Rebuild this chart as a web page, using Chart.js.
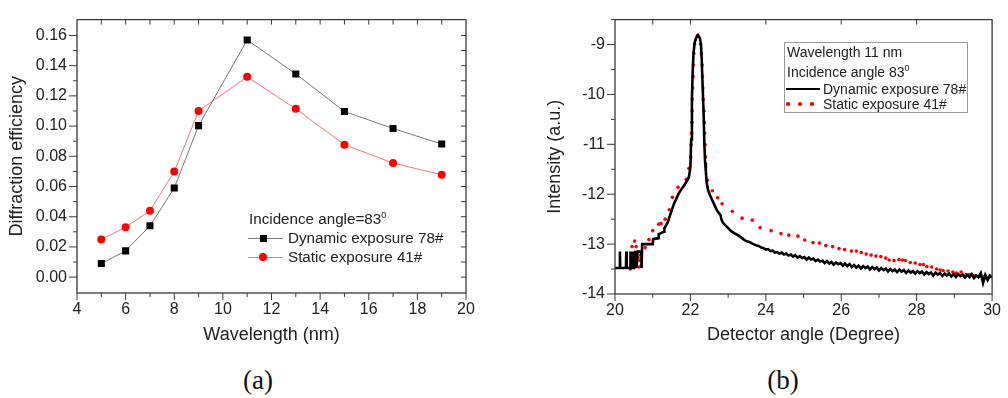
<!DOCTYPE html>
<html>
<head>
<meta charset="utf-8">
<script src="https://cdn.jsdelivr.net/npm/chart.js@4.4.0/dist/chart.umd.min.js"></script>
<style>
    body { margin: 0; background: #fff; width: 1008px; height: 398px; position: relative; overflow: hidden;
           font-family: "Liberation Sans", Arial, sans-serif; color: #222; }
    canvas { position: absolute; top: 0; }
    .t { position: absolute; white-space: nowrap; line-height: 1; transform: translateY(-50%); }
    .sup { font-size: 9px; position: relative; top: -6px; }
    .line { position: absolute; height: 0; }
    .mark { position: absolute; }
    .panel { position: absolute; width: 100px; text-align: center; font-family: "Liberation Serif", "Times New Roman", serif;
             font-size: 27px; line-height: 1; transform: translateY(-50%); color: #111; }
    #boxB { position: absolute; left: 784px; top: 42px; width: 182px; height: 69px; border: 1px solid #9a9a9a; }
</style>
</head>
<body>
<canvas id="chart-a" width="504" height="360" style="left:0"></canvas>
<canvas id="chart-b" width="478" height="360" style="left:530px"></canvas>

<!-- legend (a) -->
<div class="t" style="left:249px;top:219px;font-size:15.2px">Incidence angle=83<span class="sup">0</span></div>
<div class="line" style="left:248px;top:238px;width:35px;border-top:1px solid #777"></div>
<div class="mark" style="left:260px;top:235px;width:7px;height:7px;background:#000"></div>
<div class="t" style="left:288px;top:238px;font-size:15.2px">Dynamic exposure 78#</div>
<div class="line" style="left:248px;top:257px;width:35px;border-top:1px solid #ff7070"></div>
<div class="mark" style="left:259px;top:253px;width:8px;height:8px;border-radius:50%;background:#ff0000"></div>
<div class="t" style="left:288px;top:257px;font-size:15.2px">Static exposure 41#</div>

<!-- legend (b) -->
<div id="boxB"></div>
<div class="t" style="left:787px;top:52px;font-size:14px">Wavelength 11 nm</div>
<div class="t" style="left:787px;top:72px;font-size:14px">Incidence angle 83<span class="sup">0</span></div>
<div class="line" style="left:786px;top:88px;width:34px;border-top:2.5px solid #000"></div>
<div class="t" style="left:823px;top:89px;font-size:14px">Dynamic exposure 78#</div>
<div class="mark" style="left:786px;top:102px;width:3.5px;height:3.5px;border-radius:50%;background:#f00"></div>
<div class="mark" style="left:798px;top:102px;width:3.5px;height:3.5px;border-radius:50%;background:#f00"></div>
<div class="mark" style="left:810px;top:102px;width:3.5px;height:3.5px;border-radius:50%;background:#f00"></div>
<div class="t" style="left:823px;top:104px;font-size:14px">Static exposure 41#</div>

<div class="panel" style="left:208px;top:380px">(a)</div>
<div class="panel" style="left:733px;top:380px">(b)</div>

<script>
// (a) diffraction efficiency vs wavelength
const wavelengths = [5, 6, 7, 8, 9, 11, 13, 15, 17, 19];
const dynamicEff = [0.009, 0.0174, 0.034, 0.059, 0.1003, 0.157, 0.1345, 0.1097, 0.0984, 0.0881];
const staticEff = [0.025, 0.033, 0.044, 0.0699, 0.110, 0.1326, 0.1114, 0.0877, 0.0755, 0.0678];
const xTicksA = [4, 6, 8, 10, 12, 14, 16, 18, 20];
const yTicksA = [0, 0.02, 0.04, 0.06, 0.08, 0.10, 0.12, 0.14, 0.16];

// (b) intensity vs detector angle
const dynAngle = [
    20.00, 20.12, 20.13, 20.14, 20.29, 20.30, 20.31, 20.40, 20.41, 20.43, 20.46, 20.48, 20.50, 20.52, 20.55, 20.57,
    20.60, 20.61, 20.70, 20.70, 20.71, 20.72, 21.00, 21.01, 21.15, 21.16, 21.22, 21.30, 21.31, 21.36, 21.40, 21.46,
    21.52, 21.57, 21.61, 21.66, 21.70, 21.76, 21.83, 21.90, 21.96, 22.00, 22.02, 22.04, 22.06, 22.08, 22.11, 22.15,
    22.20, 22.25, 22.28, 22.30, 22.32, 22.35, 22.37, 22.39, 22.41, 22.43, 22.47, 22.52, 22.58, 22.64, 22.70, 22.76,
    22.80, 22.82, 22.86, 22.92, 23.00, 23.08, 23.16, 23.26, 23.35,
    23.40, 23.46, 23.52, 23.58, 23.64, 23.70, 23.76, 23.82, 23.88, 23.94, 24.00, 24.06, 24.12, 24.18, 24.24, 24.30,
    24.36, 24.42, 24.48, 24.54, 24.60, 24.66, 24.72, 24.78, 24.84, 24.90, 24.96, 25.02, 25.08, 25.14, 25.20, 25.26,
    25.32, 25.38, 25.44, 25.50, 25.56, 25.62, 25.68, 25.74, 25.80, 25.86, 25.92, 25.98, 26.04, 26.10, 26.16, 26.22,
    26.28, 26.34, 26.40, 26.46, 26.52, 26.58, 26.64, 26.70, 26.76, 26.82, 26.88, 26.94, 27.00, 27.06, 27.12, 27.18,
    27.24, 27.30, 27.36, 27.42, 27.48, 27.54, 27.60, 27.66, 27.72, 27.78, 27.84, 27.90, 27.96, 28.02, 28.08, 28.14,
    28.20, 28.26, 28.32, 28.38, 28.44, 28.50, 28.56, 28.62, 28.68, 28.74, 28.80, 28.86, 28.92, 28.98, 29.04, 29.10,
    29.16, 29.22, 29.28, 29.34, 29.40, 29.46, 29.52, 29.58, 29.64, 29.70, 29.76, 29.82, 29.88, 29.94, 30.00
];
const dynIntensity = [
    -13.48, -13.48, -13.15, -13.48, -13.48, -13.15, -13.48, -13.48, -13.15, -13.48, -13.15, -13.48, -13.15, -13.48, -13.15, -13.48,
    -13.15, -13.15, -13.15, -13.48, -13.48, -13.00, -13.00, -12.90, -12.88, -12.80, -12.78, -12.75, -12.68, -12.62, -12.56, -12.42,
    -12.29, -12.18, -12.12, -12.03, -11.97, -11.90, -11.83, -11.74, -11.66, -11.45, -10.90, -10.10, -9.55, -9.20, -8.97, -8.87,
    -8.81, -8.87, -9.00, -9.30, -9.74, -10.39, -11.00, -11.37, -11.55, -11.76, -11.92, -12.02, -12.12, -12.22, -12.32, -12.38,
    -12.42, -12.50, -12.57, -12.62, -12.68, -12.74, -12.78, -12.82, -12.87,
    -12.90, -12.93, -12.95, -12.96, -12.99, -13.01, -13.03, -13.04, -13.07, -13.08, -13.11, -13.10, -13.14, -13.13, -13.17, -13.16,
    -13.19, -13.17, -13.21, -13.19, -13.23, -13.21, -13.25, -13.22, -13.27, -13.24, -13.28, -13.26, -13.31, -13.27, -13.31, -13.29,
    -13.34, -13.31, -13.35, -13.33, -13.38, -13.34, -13.39, -13.36, -13.41, -13.37, -13.40, -13.38, -13.43, -13.39, -13.44, -13.40,
    -13.46, -13.42, -13.47, -13.43, -13.49, -13.44, -13.48, -13.45, -13.51, -13.46, -13.50, -13.47, -13.53, -13.48, -13.52, -13.49,
    -13.55, -13.50, -13.54, -13.51, -13.56, -13.51, -13.55, -13.52, -13.58, -13.53, -13.57, -13.54, -13.59, -13.54, -13.58, -13.55,
    -13.61, -13.56, -13.60, -13.57, -13.63, -13.57, -13.61, -13.58, -13.64, -13.59, -13.63, -13.59, -13.65, -13.60, -13.66, -13.60,
    -13.64, -13.61, -13.67, -13.62, -13.66, -13.60, -13.68, -13.63, -13.66, -13.58, -13.78, -13.62, -13.72, -13.63, -13.67
];
const statAngle = [
    20.41, 20.42, 20.45, 20.52, 20.54, 20.56, 20.61, 20.64, 20.66, 20.68, 20.70,
    20.80, 20.90, 21.00, 21.16, 21.22, 21.33, 21.44, 21.52, 21.67, 21.89, 21.96,
    22.01, 22.02, 22.03, 22.04, 22.045, 22.05, 22.06, 22.07, 22.08, 22.09, 22.11, 22.19,
    22.27, 22.29, 22.31, 22.32, 22.33, 22.34, 22.36, 22.37, 22.375, 22.39, 22.40,
    22.45, 22.58, 22.72, 22.84, 23.11, 23.37, 23.64, 23.85, 24.14, 24.40, 24.61, 24.85, 25.03, 25.25, 25.42,
    25.59, 25.77, 25.94, 26.09, 26.27, 26.40, 26.53, 26.66, 26.79, 26.92, 27.05, 27.18, 27.27, 27.40, 27.53,
    27.62, 27.70, 27.83, 27.96, 28.09, 28.18, 28.27, 28.40, 28.53, 28.62, 28.70, 28.83, 28.96, 29.05, 29.18,
    29.31, 29.40, 29.53, 29.66, 29.79, 29.92
];
const statIntensity = [
    -13.50, -13.27, -13.05, -12.94, -13.16, -13.05, -13.27, -13.46, -13.33, -13.22, -13.42,
    -13.07, -12.91, -12.73, -12.60, -12.59, -12.50, -12.31, -12.06, -11.86, -11.70, -11.48,
    -11.25, -11.01, -10.78, -10.56, -10.33, -10.10, -9.87, -9.64, -9.41, -9.18, -8.99, -8.82,
    -8.99, -9.18, -9.41, -9.64, -9.87, -10.10, -10.33, -10.56, -10.78, -11.01, -11.25,
    -11.72, -11.93, -12.07, -12.19, -12.34, -12.48, -12.52, -12.67, -12.73, -12.79, -12.82, -12.84, -12.92, -12.97, -12.98,
    -13.03, -13.05, -13.09, -13.11, -13.14, -13.14, -13.17, -13.20, -13.22, -13.24, -13.25, -13.28, -13.32, -13.33, -13.31,
    -13.32, -13.33, -13.37, -13.38, -13.41, -13.41, -13.45, -13.46, -13.50, -13.52, -13.53, -13.54, -13.56, -13.58, -13.56,
    -13.61, -13.61, -13.63, -13.65, -13.65, -13.66
];
const xTicksB = [20, 22, 24, 26, 28, 30];
const yTicksB = [-14, -13, -12, -11, -10, -9];

const FRAME_COLOR = '#3a3a3a';
const SANS = '"Liberation Sans", Arial, sans-serif';
const TICK_FONT = { family: SANS, size: 16 };

//draws the box round the plot and the origin style tick marks (major + minor)
const frameTicks = {
    id: 'frameTicks',
    afterDraw(chart, args, opts) {
        const { ctx, chartArea: a, scales: { x, y } } = chart;
        ctx.save();
        ctx.strokeStyle = FRAME_COLOR;
        ctx.lineWidth = 1.3;
        ctx.strokeRect(a.left, a.top, a.right - a.left, a.bottom - a.top);
        ctx.lineWidth = 1;
        const tick = (px, py, dx, dy) => {
            ctx.beginPath();
            ctx.moveTo(px, py);
            ctx.lineTo(px + dx, py + dy);
            ctx.stroke();
        };
        opts.xMajor.forEach(v => tick(x.getPixelForValue(v), a.bottom, 0, 7));
        opts.xMinor.forEach(v => tick(x.getPixelForValue(v), a.bottom, 0, 4));
        opts.yMajor.forEach(v => tick(a.left, y.getPixelForValue(v), -8, 0));
        opts.yMinor.forEach(v => tick(a.left, y.getPixelForValue(v), -4, 0));
        opts.xTop.forEach(v => tick(x.getPixelForValue(v), a.top, 0, 5));
        opts.yRight.forEach(v => tick(a.right, y.getPixelForValue(v), -5, 0));
        ctx.restore();
    }
};

function axisX(min, max, ticks, title, height) {
    return {
        type: 'linear', min, max,
        afterBuildTicks: s => { s.ticks = ticks.map(v => ({ value: v })); },
        afterFit: s => { s.height = height; },
        grid: { display: false, drawTicks: false },
        border: { display: false },
        ticks: { color: '#222', padding: 7, maxRotation: 0, autoSkip: false,
                 font: { family: SANS, size: 16 } },
        title: { display: true, text: title, color: '#222', padding: { top: 14, bottom: 14 },
                 font: { family: SANS, size: 18 } }
    };
}

function axisY(min, max, ticks, title, width, pad, fmt) {
    return {
        type: 'linear', min, max,
        afterBuildTicks: s => { s.ticks = ticks.map(v => ({ value: v })); },
        afterFit: s => { s.width = width; },
        grid: { display: false, drawTicks: false },
        border: { display: false },
        ticks: { color: '#222', padding: 10, font: TICK_FONT, callback: fmt },
        title: { display: true, text: title, color: '#222', padding: { top: pad, bottom: pad },
                 font: { family: SANS, size: 18 } }
    };
}

const chartA = new Chart(document.getElementById('chart-a').getContext('2d'), {
    type: 'scatter',
    data: {
        datasets: [{
            label: 'Dynamic exposure 78#',
            data: wavelengths.map((w, i) => ({ x: w, y: dynamicEff[i] })),
            showLine: true,
            borderColor: '#777',
            borderWidth: 1,
            pointStyle: 'rect',
            pointRadius: 5,
            pointBackgroundColor: '#000',
            pointBorderColor: '#000',
            pointBorderWidth: 0
        }, {
            label: 'Static exposure 41#',
            data: wavelengths.map((w, i) => ({ x: w, y: staticEff[i] })),
            showLine: true,
            borderColor: '#ff7070',
            borderWidth: 1,
            pointStyle: 'circle',
            pointRadius: 4,
            pointBackgroundColor: '#ff0000',
            pointBorderColor: '#ff0000',
            pointBorderWidth: 0
        }]
    },
    options: {
        responsive: false,
        animation: false,
        layout: { padding: { left: 0, top: 6, right: 38, bottom: 0 } },
        scales: {
            x: axisX(4, 20, xTicksA, 'Wavelength (nm)', 67),
            y: axisY(-0.0105, 0.1705, yTicksA, 'Diffraction efficiency', 77, 6, v => v.toFixed(2))
        },
        plugins: {
            legend: { display: false },
            tooltip: { enabled: false },
            frameTicks: {
                xMajor: xTicksA,
                xMinor: [5, 7, 9, 11, 13, 15, 17, 19],
                yMajor: yTicksA,
                yMinor: [0.01, 0.03, 0.05, 0.07, 0.09, 0.11, 0.13, 0.15],
                xTop: [5, 6, 7, 8, 9, 10, 11, 12, 13, 14, 15, 16, 17, 18, 19],
                yRight: [0, 0.01, 0.02, 0.03, 0.04, 0.05, 0.06, 0.07, 0.08, 0.09, 0.10, 0.11, 0.12, 0.13, 0.14, 0.15, 0.16]
            }
        }
    },
    plugins: [frameTicks]
});

const chartB = new Chart(document.getElementById('chart-b').getContext('2d'), {
    type: 'scatter',
    data: {
        datasets: [{
            label: 'Dynamic exposure 78#',
            data: dynAngle.map((a, i) => ({ x: a, y: dynIntensity[i] })),
            showLine: true,
            borderColor: '#000',
            borderWidth: 2.6,
            pointRadius: 0
        }, {
            label: 'Static exposure 41#',
            data: statAngle.map((a, i) => ({ x: a, y: statIntensity[i] })),
            showLine: false,
            pointRadius: 1.8,
            pointBackgroundColor: '#ff0000',
            pointBorderWidth: 0
        }]
    },
    options: {
        responsive: false,
        animation: false,
        layout: { padding: { left: 0, top: 14, right: 10, bottom: 0 } },
        scales: {
            x: axisX(20, 30, xTicksB, 'Detector angle (Degree)', 66),
            y: axisY(-14, -8.5, yTicksB, 'Intensity (a.u.)', 85, 14, v => String(v))
        },
        plugins: {
            legend: { display: false },
            tooltip: { enabled: false },
            frameTicks: {
                xMajor: xTicksB,
                xMinor: [21, 23, 25, 27, 29],
                yMajor: yTicksB,
                yMinor: [-13.5, -12.5, -11.5, -10.5, -9.5, -8.5],
                xTop: [21, 22, 24, 26, 28],
                yRight: []
            }
        }
    },
    plugins: [frameTicks]
});
</script>
</body>
</html>
